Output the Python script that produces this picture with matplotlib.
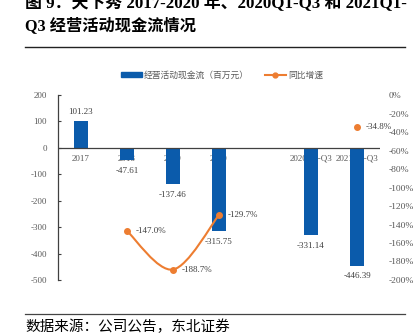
import matplotlib
matplotlib.use("Agg")
import matplotlib.pyplot as plt
from matplotlib.path import Path
from matplotlib.patches import PathPatch
from matplotlib.lines import Line2D
from matplotlib.patches import Patch

plt.rcParams['font.family'] = ['Liberation Serif', 'Noto Sans CJK SC', 'DejaVu Sans']
plt.rcParams['axes.unicode_minus'] = False

# data
categories = ['2017', '2018', '2019', '2020', '', '2020Q1-Q3', '2021Q1-Q3']
cash_flow = [101.23, -47.61, -137.46, -315.75, None, -331.14, -446.39]
growth_x = [1, 2, 3]
growth = [-147.0, -188.7, -129.7]
growth_lone_x = 6
growth_lone = -34.8

bar_color = '#0B5BAB'
line_color = '#ED7D31'
tick_color = '#595959'

fig = plt.figure(figsize=(4.18, 3.36), dpi=100)
ax = fig.add_axes([58/418, 1 - 280/336, (380 - 58)/418, (280 - 95)/336])
ax2 = ax.twinx()

# bars
for i, v in enumerate(cash_flow):
    if v is None:
        continue
    ax.bar(i, v, width=0.3, color=bar_color, zorder=3)
    off = 6.5 if v > 0 else -7.5
    ax.annotate(f'{v:.2f}', (i, v), xytext=(0, off), textcoords='offset points',
                ha='center', va='center', fontsize=6.5, color='#404040', zorder=5)

# category labels sit on the zero line, behind the bars
for i, c in enumerate(categories):
    ax.annotate(c, (i, 0), xytext=(0, -8), textcoords='offset points',
                ha='center', va='center', fontsize=6.5, color=tick_color, zorder=2)

ax.axhline(0, color='#404040', lw=0.9, zorder=4)
ax.set_xlim(-0.5, 6.5)
ax.set_ylim(-500, 200)
ax.set_yticks(range(-500, 201, 100))
ax.tick_params(axis='y', direction='in', length=2, width=0.8, colors='#404040',
               labelcolor=tick_color, labelsize=6.5, pad=8)
ax.set_xticks([])
for s in ['top', 'right', 'bottom']:
    ax.spines[s].set_visible(False)
ax.spines['left'].set_color('#404040')
ax.spines['left'].set_linewidth(0.9)

# smooth growth line (Catmull-Rom style bezier, like Excel smoothing)
pts = list(zip(growth_x, growth))
verts = [pts[0]]
codes = [Path.MOVETO]
for k in range(len(pts) - 1):
    p_prev = pts[k - 1] if k > 0 else pts[k]
    p0 = pts[k]
    p1 = pts[k + 1]
    p_next = pts[k + 2] if k + 2 < len(pts) else pts[k + 1]
    c1 = (p0[0] + (p1[0] - p_prev[0]) / 6, p0[1] + (p1[1] - p_prev[1]) / 6)
    c2 = (p1[0] - (p_next[0] - p0[0]) / 6, p1[1] - (p_next[1] - p0[1]) / 6)
    verts += [c1, c2, p1]
    codes += [Path.CURVE4] * 3
ax2.add_patch(PathPatch(Path(verts, codes), fc='none', ec=line_color, lw=1.5, zorder=3))
ax2.plot(growth_x, growth, 'o', color=line_color, ms=4, zorder=4)
ax2.plot([growth_lone_x], [growth_lone], 'o', color=line_color, ms=4, zorder=4)
for x, v in zip(growth_x + [growth_lone_x], growth + [growth_lone]):
    ax2.annotate(f'{v:.1f}%', (x, v), xytext=(6.5, 0), textcoords='offset points',
                 ha='left', va='center', fontsize=6.5, color='#404040')

ax2.set_ylim(-200, 0)
ax2.set_yticks(range(-200, 1, 20))
ax2.set_yticklabels([f'{t}%' for t in range(-200, 1, 20)])
ax2.tick_params(axis='y', length=0, labelcolor=tick_color, labelsize=6.8, pad=6)
for s in ax2.spines.values():
    s.set_visible(False)

# legend
handles = [Patch(color=bar_color),
           Line2D([], [], color=line_color, lw=1.5, marker='o', ms=3.5)]
labels = ['经营活动现金流（百万元）', '同比增速']
fig.legend(handles, labels, loc='center', bbox_to_anchor=(222/418, 1 - 75/336),
           ncol=2, frameon=False, handlelength=2.4, handleheight=0.5,
           handletextpad=0.3, columnspacing=1.8, labelcolor='#595959',
           prop={'family': ['Noto Sans CJK SC'], 'size': 6.3})

# title (first line runs off the top edge, as in the source image), rules and source
fig.text(25/418, 1 - 3/336, '图 9：天下秀 2017-2020 年、2020Q1-Q3 和 2021Q1-',
         ha='left', va='center', fontsize=12.2, fontweight='bold')
fig.text(25/418, 1 - 26/336, 'Q3 经营活动现金流情况',
         ha='left', va='center', fontsize=11.7, fontweight='bold')
fig.add_artist(Line2D([25/418, 405/418], [1 - 47/336, 1 - 47/336], color='#222222', lw=1))
fig.add_artist(Line2D([25/418, 405/418], [1 - 314/336, 1 - 314/336], color='#444444', lw=0.9))
fig.text(25/418, 1 - 327/336, '数据来源：公司公告，东北证券', ha='left', va='center',
         fontsize=10.5, family=['Noto Sans CJK SC'])

fig.savefig('out.png', dpi=100)
